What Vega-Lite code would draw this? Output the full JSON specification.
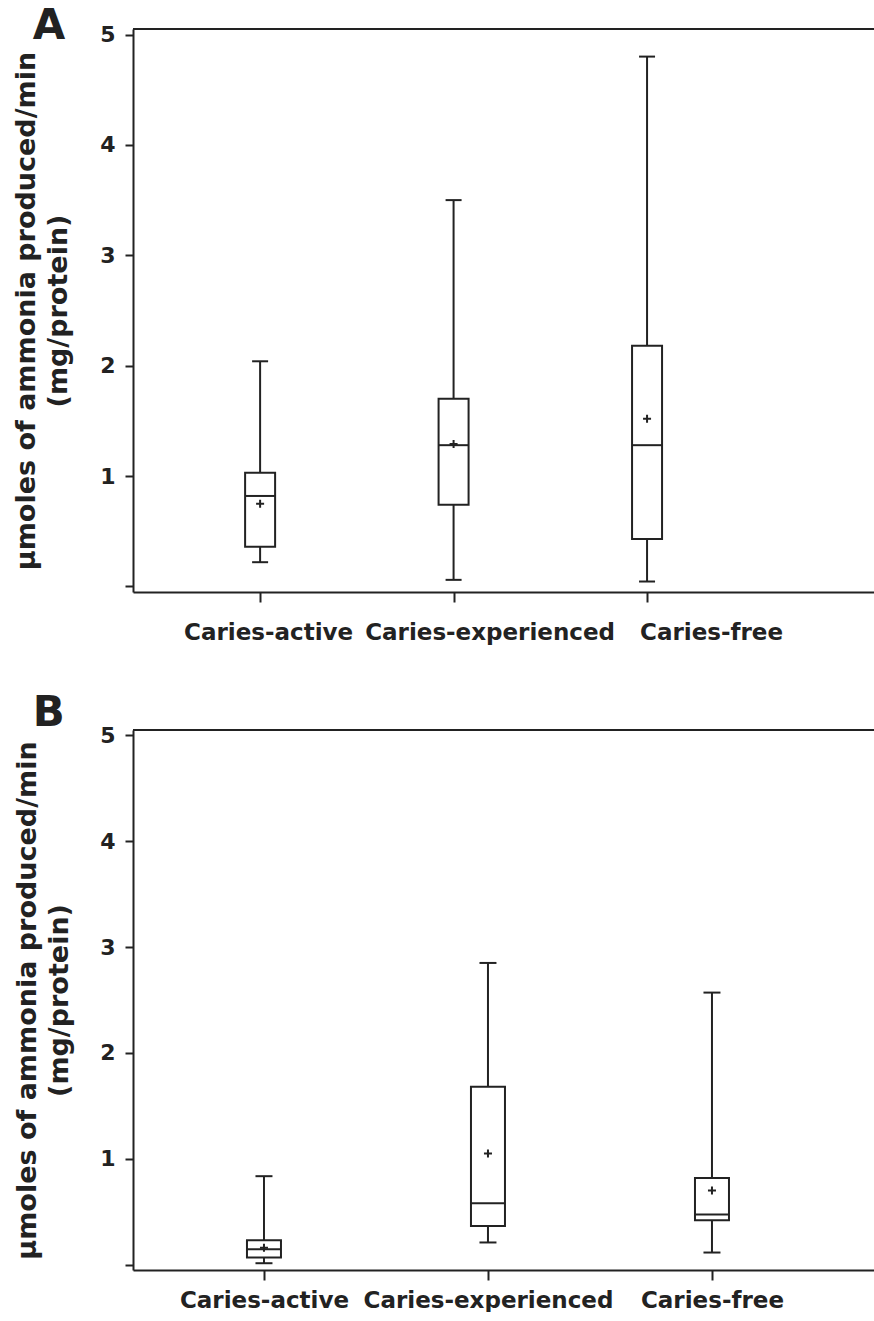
{
  "$schema": "https://vega.github.io/schema/vega-lite/v6.json",
  "padding": {"left": 12, "top": 4, "right": 0, "bottom": 0},
  "background": "white",
  "datasets": {
    "A": [
      {"group": "Caries-active", "lower": 0.22, "q1": 0.36, "median": 0.82, "q3": 1.03, "upper": 2.04, "mean": 0.75},
      {"group": "Caries-experienced", "lower": 0.06, "q1": 0.74, "median": 1.28, "q3": 1.70, "upper": 3.50, "mean": 1.29},
      {"group": "Caries-free", "lower": 0.045, "q1": 0.43, "median": 1.28, "q3": 2.18, "upper": 4.80, "mean": 1.52}
    ],
    "B": [
      {"group": "Caries-active", "lower": 0.014, "q1": 0.068, "median": 0.146, "q3": 0.23, "upper": 0.836, "mean": 0.16},
      {"group": "Caries-experienced", "lower": 0.21, "q1": 0.365, "median": 0.58, "q3": 1.68, "upper": 2.85, "mean": 1.05},
      {"group": "Caries-free", "lower": 0.115, "q1": 0.42, "median": 0.475, "q3": 0.82, "upper": 2.57, "mean": 0.70}
    ]
  },
  "config": {
    "font": "DejaVu Sans",
    "view": {"stroke": null},
    "axis": {
      "labelFont": "DejaVu Sans", "labelFontWeight": "bold", "labelFontSize": 22, "labelColor": "#222", "labelLimit": 0,
      "titleFont": "DejaVu Sans", "titleFontWeight": "bold", "titleFontSize": 27, "titleColor": "#222",
      "domainColor": "#222", "domainWidth": 2, "tickColor": "#222", "tickWidth": 2, "grid": false
    },
    "tick": {"opacity": 1},
    "title": {"font": "DejaVu Sans", "fontWeight": "bold", "fontSize": 42, "color": "#222"}
  },
  "vconcat": [
    {
      "title": {"text": "A", "anchor": "start", "frame": "bounds", "dx": 20, "offset": -24},
      "width": 741,
      "height": 563,
      "data": {"name": "A"},
      "encoding": {
        "x": {"field": "group", "type": "nominal", "sort": null,
              "scale": {"type": "point", "padding": 0.915, "align": 0.359},
              "axis": {"title": null, "labelAngle": 0, "tickSize": 10, "labelPadding": 19, "labelFontSize": 23,
                       "labelOffset": {"condition": [
                         {"test": "datum.value == 'Caries-active'", "value": 8},
                         {"test": "datum.value == 'Caries-experienced'", "value": 36}], "value": 64}}}
      },
      "layer": [
        {"mark": {"type": "rule", "color": "#222", "strokeWidth": 2},
         "encoding": {"y": {"field": "lower", "type": "quantitative",
            "scale": {"domain": [-0.05, 5.05], "nice": false, "zero": false},
            "axis": {"title": ["μmoles of ammonia produced/min", "(mg/protein)"], "titleLineHeight": 32, "titlePadding": 27,
                     "values": [0, 1, 2, 3, 4, 5], "format": "d", "labelExpr": "datum.value == 0 ? '' : datum.label", "tickSize": 8, "labelPadding": 10}},
            "y2": {"field": "upper"}}},
        {"mark": {"type": "bar", "fill": "white", "stroke": "#222", "strokeWidth": 2, "size": 30},
         "encoding": {"y": {"field": "q1", "type": "quantitative"}, "y2": {"field": "q3"}}},
        {"mark": {"type": "tick", "color": "#222", "size": 30, "thickness": 2, "opacity": 1},
         "encoding": {"y": {"field": "median", "type": "quantitative"}}},
        {"mark": {"type": "tick", "color": "#222", "size": 16, "thickness": 2, "opacity": 1},
         "encoding": {"y": {"field": "lower", "type": "quantitative"}}},
        {"mark": {"type": "tick", "color": "#222", "size": 16, "thickness": 2, "opacity": 1},
         "encoding": {"y": {"field": "upper", "type": "quantitative"}}},
        {"mark": {"type": "point", "shape": "M-1,0L1,0M0,-1L0,1", "filled": false, "stroke": "#222", "strokeWidth": 2, "size": 64, "opacity": 1},
         "encoding": {"y": {"field": "mean", "type": "quantitative"}}},
        {"mark": {"type": "rule", "color": "#222", "strokeWidth": 2},
         "encoding": {"y": {"datum": 5.05}, "x": null}}
      ]
    },
    {
      "title": {"text": "B", "anchor": "start", "frame": "bounds", "dx": 19, "offset": -11},
      "width": 741,
      "height": 540,
      "data": {"name": "B"},
      "encoding": {
        "x": {"field": "group", "type": "nominal", "sort": null,
              "scale": {"type": "point", "padding": 0.654, "align": 0.447},
              "axis": {"title": null, "labelAngle": 0, "tickSize": 10, "labelPadding": 9, "labelFontSize": 23}}
      },
      "layer": [
        {"mark": {"type": "rule", "color": "#222", "strokeWidth": 2},
         "encoding": {"y": {"field": "lower", "type": "quantitative",
            "scale": {"domain": [-0.05, 5.05], "nice": false, "zero": false},
            "axis": {"title": ["μmoles of ammonia produced/min", "(mg/protein)"], "titleLineHeight": 32, "titlePadding": 26,
                     "values": [0, 1, 2, 3, 4, 5], "format": "d", "labelExpr": "datum.value == 0 ? '' : datum.label", "tickSize": 8, "labelPadding": 10}},
            "y2": {"field": "upper"}}},
        {"mark": {"type": "bar", "fill": "white", "stroke": "#222", "strokeWidth": 2, "size": 34},
         "encoding": {"y": {"field": "q1", "type": "quantitative"}, "y2": {"field": "q3"}}},
        {"mark": {"type": "tick", "color": "#222", "size": 34, "thickness": 2, "opacity": 1},
         "encoding": {"y": {"field": "median", "type": "quantitative"}}},
        {"mark": {"type": "tick", "color": "#222", "size": 17, "thickness": 2, "opacity": 1},
         "encoding": {"y": {"field": "lower", "type": "quantitative"}}},
        {"mark": {"type": "tick", "color": "#222", "size": 17, "thickness": 2, "opacity": 1},
         "encoding": {"y": {"field": "upper", "type": "quantitative"}}},
        {"mark": {"type": "point", "shape": "M-1,0L1,0M0,-1L0,1", "filled": false, "stroke": "#222", "strokeWidth": 2, "size": 64, "opacity": 1},
         "encoding": {"y": {"field": "mean", "type": "quantitative"}}},
        {"mark": {"type": "rule", "color": "#222", "strokeWidth": 2},
         "encoding": {"y": {"datum": 5.05}, "x": null}}
      ]
    }
  ],
  "spacing": 48
}
